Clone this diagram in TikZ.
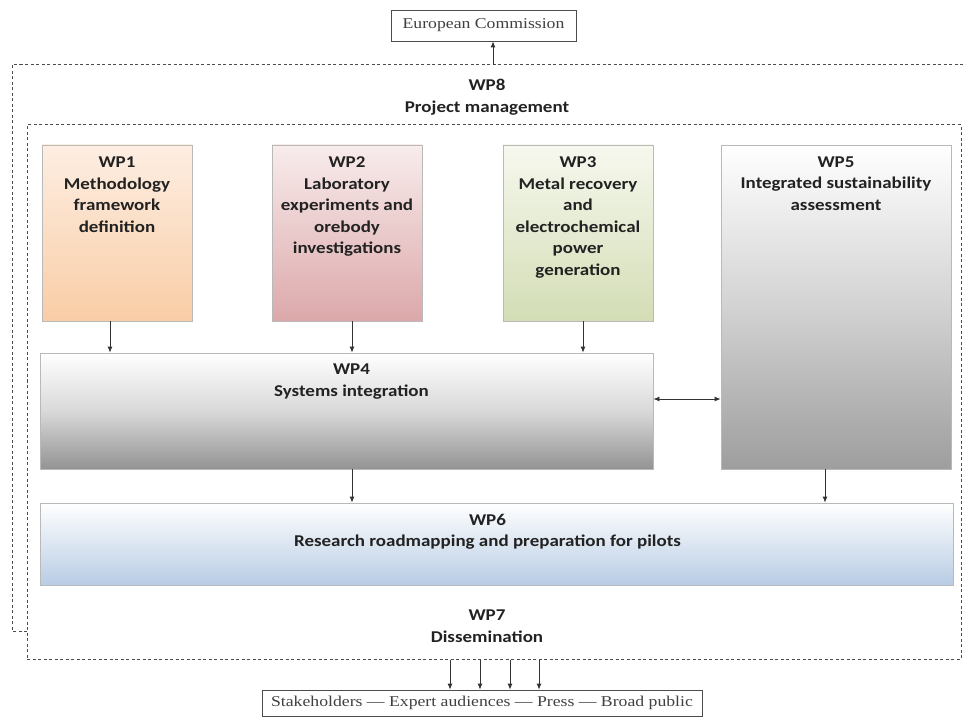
\documentclass[tikz,border=0pt]{standalone}
\usepackage{fontspec}
\setmainfont[FakeStretch=1.18]{Liberation Serif}
\newfontfamily\wpfont[FakeStretch=1.15]{Carlito}
\usepackage{tikz}
\usetikzlibrary{arrows.meta, positioning}
\usepackage{xcolor}

\definecolor{wponeTop}{HTML}{FDEEE2}
\definecolor{wponeBot}{HTML}{F9CDA6}
\definecolor{wptwoTop}{HTML}{F8ECEC}
\definecolor{wptwoBot}{HTML}{DCA8AA}
\definecolor{wpthreeTop}{HTML}{F6F8EE}
\definecolor{wpthreeBot}{HTML}{D3DDB5}
\definecolor{wpsixBot}{HTML}{B8CCE4}
\definecolor{wpgrayBot}{HTML}{939393}
\definecolor{wptext}{HTML}{222222}

\begin{document}
\begin{tikzpicture}[x=1pt, y=-1pt,
  every node/.style={inner sep=0pt},
  wpbox/.style={draw=gray!55, line width=0.8pt, shading=axis},
  wplbl/.style={font=\wpfont\fontsize{16.5}{21.5}\selectfont\bfseries, text=wptext, align=center},
  outbox/.style={draw=black!70, line width=0.8pt, font=\fontsize{15}{18}\selectfont, text=black!75},
  frame/.style={draw=black!70, line width=1pt, dash pattern=on 3pt off 2.5pt},
  arr/.style={-{Latex[length=6pt, width=5pt]}, line width=0.8pt, black!80},
  dbl/.style={{Latex[length=6pt, width=5pt]}-{Latex[length=6pt, width=5pt]}, line width=0.8pt, black!80}
]
  \useasboundingbox (0,0) rectangle (966,719);

  % ---- outside world ----
  \node[outbox, minimum width=185pt, minimum height=31pt] (ec)  at (483.5,25.5) {European Commission};
  \node[outbox, minimum width=440pt, minimum height=26pt] (aud) at (482,703)
        {Stakeholders --- Expert audiences --- Press --- Broad public};

  % ---- WP8 frame (open at the right) and WP7 frame ----
  \draw[frame] (27,631) -- (12,631) -- (12,65) -- (968,65);
  \coordinate (wpeighttop) at (493,65);
  \node[frame, minimum width=934pt, minimum height=534pt] (wpseven) at (494,392) {};

  \node[wplbl] (wpeight) at (487,97) {WP8\\Project management};
  \node[wplbl] (wpsevenlbl) at (487,626) {WP7\\Dissemination};

  % ---- top row of work packages ----
  \node[wpbox, top color=wponeTop, bottom color=wponeBot, minimum width=150pt, minimum height=176pt] (wp1) at (117,233) {};
  \node[wpbox, top color=wptwoTop, bottom color=wptwoBot, minimum width=150pt, minimum height=176pt] (wp2) at (347,233) {};
  \node[wpbox, top color=wpthreeTop, bottom color=wpthreeBot, minimum width=150pt, minimum height=176pt] (wp3) at (578,233) {};
  \node[wpbox, top color=white, bottom color=wpgrayBot!90, middle color=gray!35, minimum width=230pt, minimum height=324pt] (wp5) at (836,307) {};

  % ---- integration and roadmapping ----
  \node[wpbox, top color=white, bottom color=wpgrayBot, middle color=gray!30, minimum width=613pt, minimum height=116pt] (wp4) at (346.5,411) {};
  \node[wpbox, top color=white, bottom color=wpsixBot, minimum width=913pt, minimum height=82pt] (wp6) at (496.5,544) {};

  % ---- box texts (top aligned) ----
  \node[wplbl, anchor=north] at ([yshift=-12pt]wp1.north) {WP1\\Methodology\\framework\\definition};
  \node[wplbl, anchor=north] at ([yshift=-12pt]wp2.north) {WP2\\Laboratory\\experiments and\\orebody\\investigations};
  \node[wplbl, anchor=north] at ([yshift=-12pt]wp3.north) {WP3\\Metal recovery\\and\\electrochemical\\power\\generation};
  \node[wplbl, anchor=north] at ([yshift=-12pt]wp5.north) {WP5\\Integrated sustainability\\assessment};
  \node[wplbl, anchor=north] at ([xshift=5pt, yshift=-11pt]wp4.north) {WP4\\Systems integration};
  \node[wplbl, anchor=north] at ([xshift=-9pt, yshift=-11pt]wp6.north) {WP6\\Research roadmapping and preparation for pilots};

  % ---- WP8 reports to the Commission ----
  \draw[arr] (wpeighttop) -- (wpeighttop |- ec.south);

  % ---- WP1-3 feed WP4 ----
  \draw[arr] ([xshift=-7pt]wp1.south) -- ([xshift=-7pt]wp1.south |- wp4.north);
  \draw[arr] ([xshift=5pt]wp2.south)  -- ([xshift=5pt]wp2.south |- wp4.north);
  \draw[arr] ([xshift=5pt]wp3.south)  -- ([xshift=5pt]wp3.south |- wp4.north);

  % ---- WP4 <-> WP5 ----
  \draw[dbl] ([yshift=12pt]wp4.east) -- ([yshift=12pt]wp4.east -| wp5.west);

  % ---- WP4 and WP5 feed WP6 ----
  \draw[arr] ([xshift=5.5pt]wp4.south) -- ([xshift=5.5pt]wp4.south |- wp6.north);
  \draw[arr] ([xshift=-11pt]wp5.south) -- ([xshift=-11pt]wp5.south |- wp6.north);

  % ---- dissemination to the audiences ----
  \foreach \dx in {-44,-14,16,45}
    \draw[arr] ([xshift=\dx pt]wpseven.south) -- ([xshift=\dx pt]wpseven.south |- aud.north);
\end{tikzpicture}
\end{document}
